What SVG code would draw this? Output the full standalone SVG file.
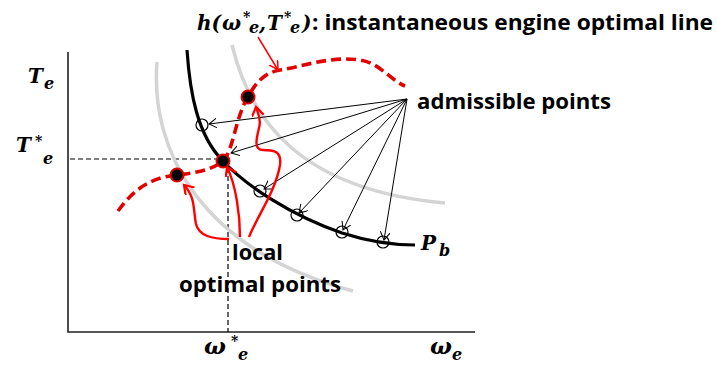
<svg xmlns="http://www.w3.org/2000/svg" width="717" height="365" viewBox="0 0 717 365">
<style>
.axis{stroke:#222;stroke-width:1.6;fill:none}
.guide{stroke:#000;stroke-width:1.2;stroke-dasharray:5 3;fill:none}
.iso{stroke:#d4d4d4;stroke-width:3.5;fill:none}
.pb{stroke:#000;stroke-width:3.2;fill:none}
.opt{stroke:#e00000;stroke-width:3.6;stroke-dasharray:10 5;fill:none}
.fan{stroke:#000;stroke-width:1;fill:none}
.red{stroke:#f00;stroke-width:2.4;fill:none}
.redthin{stroke:#f00;stroke-width:1.5;fill:none}
.adm{stroke:#000;stroke-width:1.2;fill:none}
.loc{fill:#000;stroke:#e00000;stroke-width:2}
.lbl{font-family:"Open Sans","Liberation Sans",sans-serif;font-weight:700;font-size:22px;fill:#000}
.math{font-family:"DejaVu Serif","Liberation Serif",serif;font-weight:700;font-style:italic;font-size:20px;fill:#000}
.sup{font-size:14px}
.sub{font-size:16px}
</style>
<defs>
<marker id="ah" markerUnits="userSpaceOnUse" markerWidth="12" markerHeight="12" refX="8" refY="5" orient="auto">
<path d="M0,0 L8,5 L0,10" fill="none" stroke="#000" stroke-width="1"/>
</marker>
<marker id="ahr" markerUnits="userSpaceOnUse" markerWidth="14" markerHeight="14" refX="9" refY="6" orient="auto">
<path d="M0,0 L9,6 L0,12" fill="none" stroke="#f00" stroke-width="2.2"/>
</marker>
<marker id="ahr2" markerUnits="userSpaceOnUse" markerWidth="14" markerHeight="14" refX="9" refY="5" orient="auto">
<path d="M0,0 L9,5 L0,10" fill="none" stroke="#f00" stroke-width="1.5"/>
</marker>
</defs>

<g id="axes">
<path class="axis" d="M68,52 L68,332 L475,332"/>
<path class="guide" d="M70,159 L216,159"/>
<path class="guide" d="M228,168 L228,332"/>
</g>

<g id="isolines">
<path class="iso" d="M157,62 C150,150 200,250 353,291"/>
<path class="iso" d="M232,45 C250,120 300,190 445,203"/>
</g>

<g id="pb-curve">
<path class="pb" d="M187,50 C190,95 198,135 222,160 C245,185 290,215 342,233 C370,242 395,245 415,245"/>
</g>

<g id="optimal-line">
<path class="opt" d="M118,211 C130,195 145,178 177,175 C195,173 212,170 223,161 C233,152 236,115 248,97 C254,86 262,73 280,70 C305,66 330,56 360,60 C380,63 390,80 405,86"/>
</g>

<g id="connectors">
<path class="fan" marker-end="url(#ah)" d="M407,99 L209,124"/>
<path class="fan" marker-end="url(#ah)" d="M407,99 L231,153"/>
<path class="fan" marker-end="url(#ah)" d="M407,99 L264,189"/>
<path class="fan" marker-end="url(#ah)" d="M407,99 L299,213"/>
<path class="fan" marker-end="url(#ah)" d="M407,99 L343,230"/>
<path class="fan" marker-end="url(#ah)" d="M407,99 L384,240"/>
<path class="red" marker-end="url(#ahr)" d="M229,239 C212,239 199,236 196,224 C193,210 196,198 184,185"/>
<path class="red" marker-end="url(#ahr)" d="M240,237 C240,215 236,185 227,167"/>
<path class="red" marker-end="url(#ahr)" d="M249,237 C258,215 276,190 280,165 C282,150 272,150 263,150 C254,150 256,140 259,128 C262,118 257,112 256,107"/>
<path class="redthin" marker-end="url(#ahr2)" d="M258,37 L278,70"/>
</g>

<g id="admissible-points">
<circle class="adm" cx="202" cy="125" r="6"/>
<circle class="adm" cx="260" cy="191" r="6"/>
<circle class="adm" cx="297" cy="215" r="6"/>
<circle class="adm" cx="342" cy="232" r="6"/>
<circle class="adm" cx="383" cy="242" r="6"/>
</g>

<g id="local-optimal-points">
<circle class="loc" cx="177" cy="175" r="6.5"/>
<circle class="loc" cx="223" cy="161" r="6.5"/>
<circle class="loc" cx="248" cy="97" r="6.5"/>
</g>

<g id="title-label">
<text class="math" y="30" font-size="19"><tspan x="197">h(</tspan><tspan x="222">ω</tspan><tspan class="sup" x="243" y="22">*</tspan><tspan class="sub" x="249" y="33" font-size="15">e</tspan><tspan x="259" y="30">,</tspan><tspan x="267" y="30">T</tspan><tspan class="sup" x="284" y="22">*</tspan><tspan class="sub" x="290" y="33" font-size="15">e</tspan><tspan x="302" y="30">)</tspan></text>
<text class="lbl" x="312" y="30" textLength="401" lengthAdjust="spacingAndGlyphs">: instantaneous engine optimal line</text>
</g>

<g id="axis-labels">
<text class="math" y="83"><tspan x="28">T</tspan><tspan class="sub" x="44" y="89">e</tspan></text>
<text class="math" y="152"><tspan x="16">T</tspan><tspan class="sup" x="35" y="146">*</tspan><tspan class="sub" x="43" y="164">e</tspan></text>
<text class="math" y="354"><tspan x="204" font-size="23">ω</tspan><tspan class="sup" x="231" y="346">*</tspan><tspan class="sub" x="238" y="360">e</tspan></text>
<text class="math" y="354"><tspan x="430" font-size="23">ω</tspan><tspan class="sub" x="452" y="360">e</tspan></text>
<text class="math" y="250"><tspan x="421">P</tspan><tspan class="sub" x="439" y="256">b</tspan></text>
</g>

<g id="text-labels">
<text class="lbl" x="417" y="109" textLength="194" lengthAdjust="spacingAndGlyphs">admissible points</text>
<text class="lbl" x="232" y="260" textLength="51" lengthAdjust="spacingAndGlyphs">local</text>
<text class="lbl" x="179" y="292" textLength="162" lengthAdjust="spacingAndGlyphs">optimal points</text>
</g>
</svg>
